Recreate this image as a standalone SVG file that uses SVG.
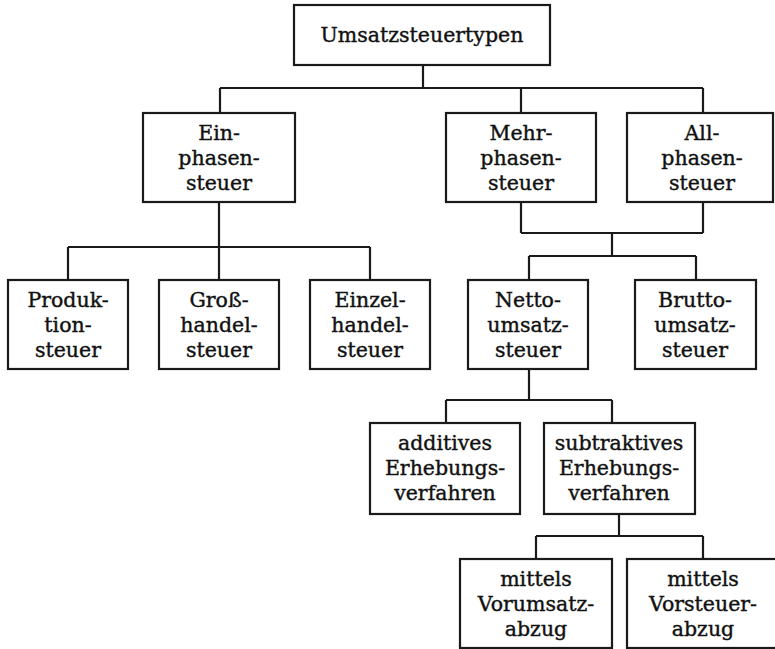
<svg xmlns="http://www.w3.org/2000/svg" width="775" height="649" viewBox="0 0 775 649">
<style>
rect{fill:#fff;stroke:#1a1a1a;stroke-width:2.2}
.c path{fill:none;stroke:#1a1a1a;stroke-width:2.2}
text{font-family:"DejaVu Serif","Liberation Serif",serif;font-size:20.5px;fill:#111;stroke:#111;stroke-width:0.4;text-anchor:middle}
</style>
<rect x="0" y="0" width="775" height="649" style="fill:#fff;stroke:none"/>
<g class="c" id="connectors">
<path d="M423 65V88M220 88H703M220 88V113M521 88V113M703 88V113"/>
<path d="M219 202V247M68 247H370M68 247V280M219 247V280M370 247V280"/>
<path d="M521 202V233M703 202V233M521 233H703M612 233V256M529 256H696M529 256V280M696 256V280"/>
<path d="M529 369V400M446 400H612M446 400V423M612 400V423"/>
<path d="M619 514V536M536 536H703M536 536V559M703 536V559"/>
</g>
<g id="n0"><rect x="294" y="5" width="256" height="60"/><text x="422" y="42">Umsatzsteuertypen</text></g>
<g id="n1"><rect x="143" y="113" width="152" height="89"/><text x="219" y="140">Ein-</text><text x="219" y="165">phasen-</text><text x="219" y="190">steuer</text></g>
<g id="n2"><rect x="446" y="113" width="150" height="89"/><text x="521" y="140">Mehr-</text><text x="521" y="165">phasen-</text><text x="521" y="190">steuer</text></g>
<g id="n3"><rect x="627" y="113" width="146" height="89"/><text x="702" y="140">All-</text><text x="702" y="165">phasen-</text><text x="702" y="190">steuer</text></g>
<g id="n4"><rect x="8" y="280" width="120" height="89"/><text x="68" y="307">Produk-</text><text x="68" y="332">tion-</text><text x="68" y="357">steuer</text></g>
<g id="n5"><rect x="159" y="280" width="120" height="89"/><text x="219" y="307">Groß-</text><text x="219" y="332">handel-</text><text x="219" y="357">steuer</text></g>
<g id="n6"><rect x="310" y="280" width="120" height="89"/><text x="370" y="307">Einzel-</text><text x="370" y="332">handel-</text><text x="370" y="357">steuer</text></g>
<g id="n7"><rect x="468" y="280" width="120" height="89"/><text x="528" y="307">Netto-</text><text x="528" y="332">umsatz-</text><text x="528" y="357">steuer</text></g>
<g id="n8"><rect x="635" y="280" width="121" height="89"/><text x="695" y="307">Brutto-</text><text x="695" y="332">umsatz-</text><text x="695" y="357">steuer</text></g>
<g id="n9"><rect x="370" y="423" width="150" height="91"/><text x="445" y="450">additives</text><text x="445" y="475">Erhebungs-</text><text x="445" y="500">verfahren</text></g>
<g id="n10"><rect x="544" y="423" width="151" height="91"/><text x="619" y="450">subtraktives</text><text x="619" y="475">Erhebungs-</text><text x="619" y="500">verfahren</text></g>
<g id="n11"><rect x="460" y="559" width="152" height="89"/><text x="536" y="586">mittels</text><text x="536" y="611">Vorumsatz-</text><text x="536" y="636">abzug</text></g>
<g id="n12"><rect x="627" y="559" width="152" height="89"/><text x="703" y="586">mittels</text><text x="703" y="611">Vorsteuer-</text><text x="703" y="636">abzug</text></g>
</svg>
